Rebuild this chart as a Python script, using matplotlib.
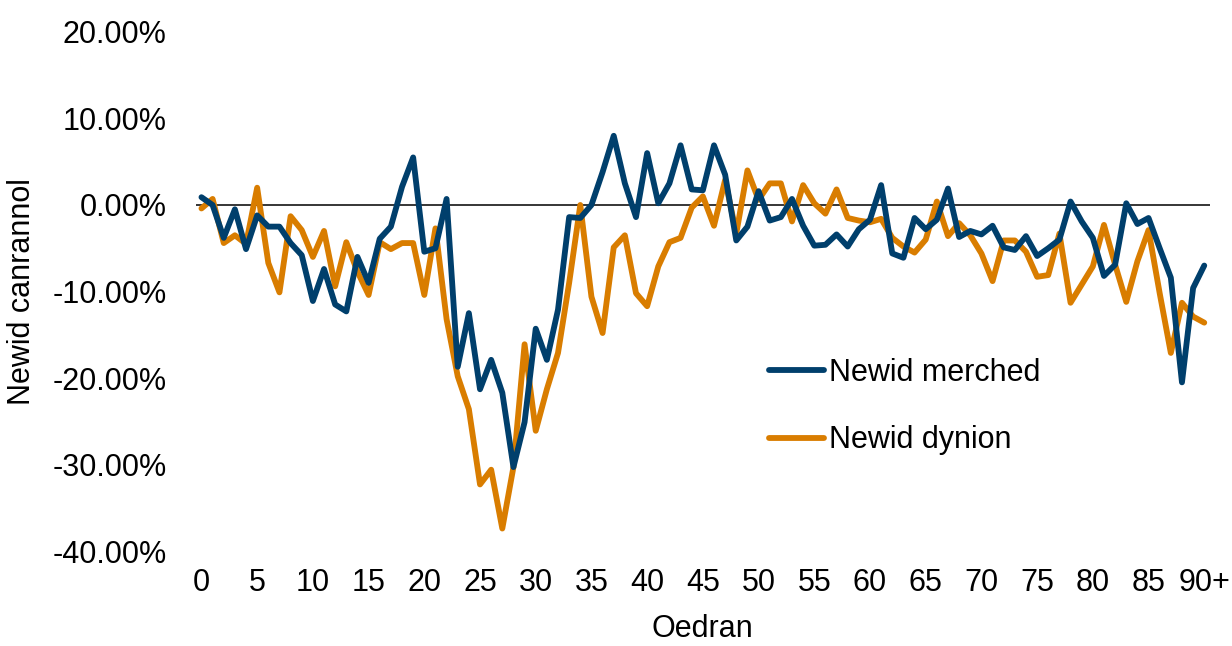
import numpy as np
import matplotlib.pyplot as plt

plt.rcParams['font.family'] = ['Liberation Sans', 'DejaVu Sans']

ages = list(range(0, 91))
tick_pos = list(range(0, 91, 5))
tick_labels = [str(a) for a in range(0, 90, 5)] + ['90+']

# percent change by single year of age
women = [0.9, 0.0, -3.8, -0.5, -5.1, -1.2, -2.5, -2.5, -4.4, -5.8,
         -11.1, -7.4, -11.5, -12.3, -6.0, -9.0, -3.9, -2.5, 2.1, 5.5,
         -5.4, -5.0, 0.7, -18.7, -12.5, -21.3, -17.9, -21.7, -30.3, -25.1,
         -14.3, -17.9, -12.1, -1.4, -1.5, 0.0, 3.8, 8.0, 2.5, -1.4,
         6.0, 0.2, 2.5, 6.9, 1.8, 1.7, 6.9, 3.5, -4.1, -2.5,
         1.6, -1.8, -1.4, 0.7, -2.4, -4.7, -4.6, -3.4, -4.8, -2.8,
         -1.7, 2.3, -5.6, -6.1, -1.5, -2.8, -1.7, 1.9, -3.7, -3.0,
         -3.4, -2.4, -4.9, -5.2, -3.6, -5.9, -5.0, -4.0, 0.4, -1.9,
         -3.8, -8.2, -6.9, 0.2, -2.2, -1.5, -5.0, -8.4, -20.5, -9.6,
         -7.0]
men = [-0.4, 0.7, -4.4, -3.5, -4.5, 2.0, -6.7, -10.1, -1.3, -2.9,
       -6.0, -3.0, -9.4, -4.3, -7.7, -10.4, -4.3, -5.1, -4.4, -4.4,
       -10.4, -2.7, -13.2, -19.8, -23.6, -32.3, -30.6, -37.4, -30.3, -16.1,
       -26.1, -21.3, -17.1, -9.0, 0.0, -10.6, -14.8, -4.9, -3.5, -10.2,
       -11.7, -7.1, -4.3, -3.8, -0.3, 1.0, -2.4, 2.9, -3.3, 4.0,
       0.6, 2.5, 2.5, -1.9, 2.3, 0.2, -1.0, 1.8, -1.5, -1.8,
       -2.0, -1.6, -3.8, -4.8, -5.5, -4.0, 0.4, -3.6, -2.1, -3.5,
       -5.6, -8.8, -4.1, -4.1, -5.4, -8.3, -8.1, -3.3, -11.3, -9.2,
       -7.1, -2.3, -6.9, -11.2, -6.5, -2.9, -10.2, -17.1, -11.3, -12.9,
       -13.6]

fig = plt.figure(figsize=(12.32, 6.46), dpi=100)
ax = fig.add_axes([0.159, 0.147, 0.823, 0.8035])

ax.axhline(0, color='black', linewidth=1.1, zorder=1)
ax.plot(ages, women, color='#003F6C', linewidth=4.2, label='Newid merched',
        zorder=3, solid_joinstyle='round', solid_capstyle='round')
ax.plot(ages, men, color='#D97D00', linewidth=4.2, label='Newid dynion',
        zorder=2, solid_joinstyle='round', solid_capstyle='round')

ax.set_xlim(-0.5, 90.5)
ax.set_ylim(-40, 20)
ax.set_xticks(tick_pos)
ax.set_xticklabels(tick_labels)
ax.set_yticks(np.arange(-40, 21, 10))
ax.set_yticklabels([f'{v:.2f}%' for v in np.arange(-40, 21, 10)])
ax.tick_params(axis='x', length=0, pad=12, labelsize=22)
ax.tick_params(axis='y', length=0, pad=21, labelsize=22)
for s in ax.spines.values():
    s.set_visible(False)

ax.set_xlabel('Oedran', fontsize=22, labelpad=12)
fig.text(0.018, 0.548, 'Newid canrannol', rotation=90, fontsize=22,
         ha='center', va='center')

ax.legend(loc='center left', bbox_to_anchor=(0.612, 0.3705),
          bbox_transform=fig.transFigure, frameon=False, fontsize=22,
          handlelength=1.8, handletextpad=0.15, labelspacing=1.22,
          borderpad=0)

fig.savefig('out.png', dpi=100)
